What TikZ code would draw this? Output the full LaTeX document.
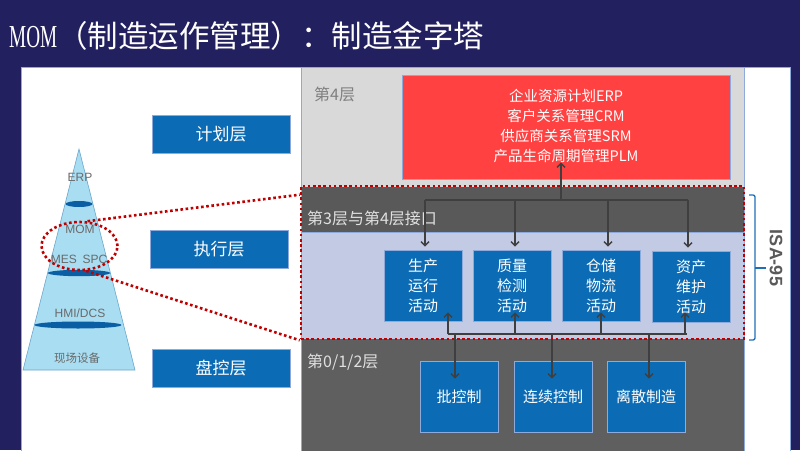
\documentclass[tikz,border=0pt]{standalone}
\usepackage{fontspec}
\setmainfont{Noto Sans CJK SC}
\newfontfamily\latf{Liberation Sans}
\newfontfamily\monof[FakeStretch=0.6]{Liberation Serif}
\usetikzlibrary{arrows.meta,calc,shapes.geometric}
\definecolor{navy}{HTML}{23205F}
\definecolor{boxblue}{HTML}{0B6CB5}
\definecolor{redbox}{HTML}{FF4141}
\definecolor{lgray}{HTML}{D9D9D9}
\definecolor{dgray}{HTML}{595959}
\definecolor{bgray}{HTML}{5F5F5F}
\definecolor{lav}{HTML}{C3CAE4}
\definecolor{edgeb}{HTML}{8EAADB}
\definecolor{dred}{HTML}{C00000}
\definecolor{pyr}{HTML}{A9DDF2}
\definecolor{pyredge}{HTML}{6BA7CC}
\definecolor{ellb}{HTML}{0A5EA3}
\definecolor{arr}{HTML}{3F3F3F}
\definecolor{txtgray}{HTML}{7F7F7F}
\definecolor{pyrtxt}{HTML}{6A6A6A}
\definecolor{bracec}{HTML}{1F6FB8}
\definecolor{isatxt}{HTML}{5A5A5A}
\begin{document}
\begin{tikzpicture}[x=1pt,y=-1pt,
  layerbox/.style={fill=boxblue, draw=edgeb, line width=0.6pt, text=white, inner sep=0pt,
    minimum width=138pt, minimum height=38pt, font=\fontsize{17}{20}\selectfont},
  actbox/.style={fill=boxblue, draw=edgeb, line width=0.6pt, text=white, inner sep=0pt,
    minimum width=78pt, minimum height=71pt, align=center, font=\fontsize{15}{20}\selectfont},
  conn/.style={draw=arr, line width=1.4pt},
  arrowc/.style={conn, -{Straight Barb[length=4pt,width=8pt,line width=1.4pt]}},
  reddot/.style={draw=dred, line width=2.6pt, dash pattern=on 2.6pt off 2.6pt},
  pyrlab/.style={text=pyrtxt, inner sep=0pt, font=\latf\fontsize{12}{13}\selectfont},
  layertxt/.style={anchor=west, inner sep=0pt, font=\fontsize{16}{18}\selectfont}
]
\useasboundingbox (0,0) rectangle (800,450);
\fill[navy] (0,0) rectangle (800,450);
% white panel
\fill[white] (21,67) rectangle (790,452);
\draw[edgeb, line width=0.8pt] (21,452) -- (21,67) -- (790,67) -- (790,452);
% title
\node[anchor=west, text=white, inner sep=0pt] (title) at (9,36)
  {{\monof\fontsize{32}{34}\selectfont MOM}\fontsize{30.5}{34}\selectfont （制造运作管理）：制造金字塔};

% right panel layers
\fill[lgray] (301,67) rectangle (744,187);
\fill[dgray] (301,187) rectangle (744,232);
\fill[lav] (301,232) rectangle (744,339);
\fill[bgray] (301,339) rectangle (744,452);
\draw[edgeb, line width=0.7pt] (301,452) -- (301,67) -- (744,67) -- (744,452);
\draw[edgeb, line width=0.5pt] (301,232) -- (744,232);

\node[layertxt, text=txtgray] (l4) at (314,94) {第4层};
\node[layertxt, text=white!88!black] (l34) at (307,218) {第3层与第4层接口};
\node[layertxt, text=white!88!black] (l012) at (307,362) {第0/1/2层};

% ERP box
\node[fill=redbox, draw=edgeb, line width=0.6pt, minimum width=328pt, minimum height=104pt,
  text=white, align=center, inner sep=0pt, font=\fontsize{14.5}{20}\selectfont] (erp) at (566,127)
  {\raisebox{-2pt}{\begin{tabular}{@{}c@{}}企业资源计划ERP\\[0pt]客户关系管理CRM\\供应商关系管理SRM\\产品生命周期管理PLM\end{tabular}}};

% activity boxes
\node[actbox] (a1) at (423,285.5) {生产\\运行\\活动};
\node[actbox] (a2) at (512,285.5) {质量\\检测\\活动};
\node[actbox] (a3) at (601,285.5) {仓储\\物流\\活动};
\node[actbox] (a4) at (691,286.5) {资产\\维护\\活动};

% control boxes
\node[actbox] (b1) at (459,396.5) {批控制};
\node[actbox] (b2) at (553,396.5) {连续控制};
\node[actbox] (b3) at (646,396.5) {离散制造};

% top bus
\coordinate (tb) at (561,200);
\coordinate (t1) at (425,200);
\coordinate (t2) at (515,200);
\coordinate (t3) at (608,200);
\coordinate (t4) at (688,200);
\draw[conn] (t1) -- (t4);
\draw[arrowc] (tb) -- ([yshift=17pt]tb |- erp.south);
\draw[arrowc] (t1) -- ([yshift=3pt]t1 |- a1.north);
\draw[arrowc] (t2) -- ([yshift=3pt]t2 |- a2.north);
\draw[arrowc] (t3) -- ([yshift=3pt]t3 |- a3.north);
\draw[arrowc] (t4) -- ([yshift=3pt]t4 |- a4.north);

% bottom bus
\coordinate (u1) at (448,334);
\coordinate (u2) at (515,334);
\coordinate (u3) at (601,334);
\coordinate (u4) at (685,334);
\coordinate (ue) at (687,334);
\draw[conn] (u1) -- (ue);
\draw[arrowc] (u1) -- ([yshift=9pt]u1 |- a1.south);
\draw[arrowc] (u2) -- ([yshift=9pt]u2 |- a2.south);
\draw[arrowc] (u3) -- ([yshift=9pt]u3 |- a3.south);
\draw[arrowc] (u4) -- ([yshift=10pt]u4 |- a4.south);
\coordinate (d1) at (455,334);
\coordinate (d2) at (552,334);
\coordinate (d3) at (649,334);
\draw[arrowc] (d1) -- ([yshift=-18pt]d1 |- b1.north);
\draw[arrowc] (d2) -- ([yshift=-18pt]d2 |- b2.north);
\draw[arrowc] (d3) -- ([yshift=-18pt]d3 |- b3.north);

% red dotted zone
\node[reddot, minimum width=443pt, minimum height=153pt, inner sep=0pt] (zone) at (522.5,262.5) {};

% ISA-95 brace
\coordinate (br1) at (749,195);
\coordinate (br2) at (749,340);
\coordinate (brm) at (766,268);
\draw[bracec, line width=1.3pt, rounded corners=2pt] (br1) -- (755,195) -- (755,340) -- (br2);
\draw[bracec, line width=1.3pt] (755,268) -- (brm);
\node[rotate=-90, text=isatxt, inner sep=0pt, font=\latf\bfseries\fontsize{18}{20}\selectfont] (isa) at (776,258) {ISA-95};

% left layer boxes
\node[layerbox] (plan) at (221,134) {计划层};
\node[layerbox] (exec) at (219,249.5) {执行层};
\node[layerbox] (ctrl) at (221,368) {盘控层};

% pyramid
\draw[fill=pyr, draw=pyredge, line width=0.6pt] (79,149) -- (135,370) -- (23,370) -- cycle;
\fill[ellb] (79,204) ellipse [x radius=13.5pt, y radius=3pt];
\fill[ellb] (79,273) ellipse [x radius=31pt, y radius=3.2pt];
\fill[ellb] (78,325) ellipse [x radius=43.5pt, y radius=3.5pt];
\node[pyrlab] (perp) at (80,177) {ERP};
\node[pyrlab] (pmom) at (80,229) {MOM};
\node[pyrlab] (pmes) at (64,259) {MES};
\node[pyrlab] (pspc) at (95,259) {SPC};
\node[pyrlab] (phmi) at (80,313) {HMI/DCS};
\node[pyrlab, font=\fontsize{11.5}{13}\selectfont] (pfield) at (77,358) {现场设备};

% dotted ellipse and lines
\node[ellipse, reddot, minimum width=76pt, minimum height=48pt, inner sep=0pt] (momell) at (79.5,246) {};
\draw[reddot] (momell.72) -- ([yshift=-10pt]zone.north west);
\draw[reddot] (momell.-75) -- (zone.south west);
\end{tikzpicture}
\end{document}
